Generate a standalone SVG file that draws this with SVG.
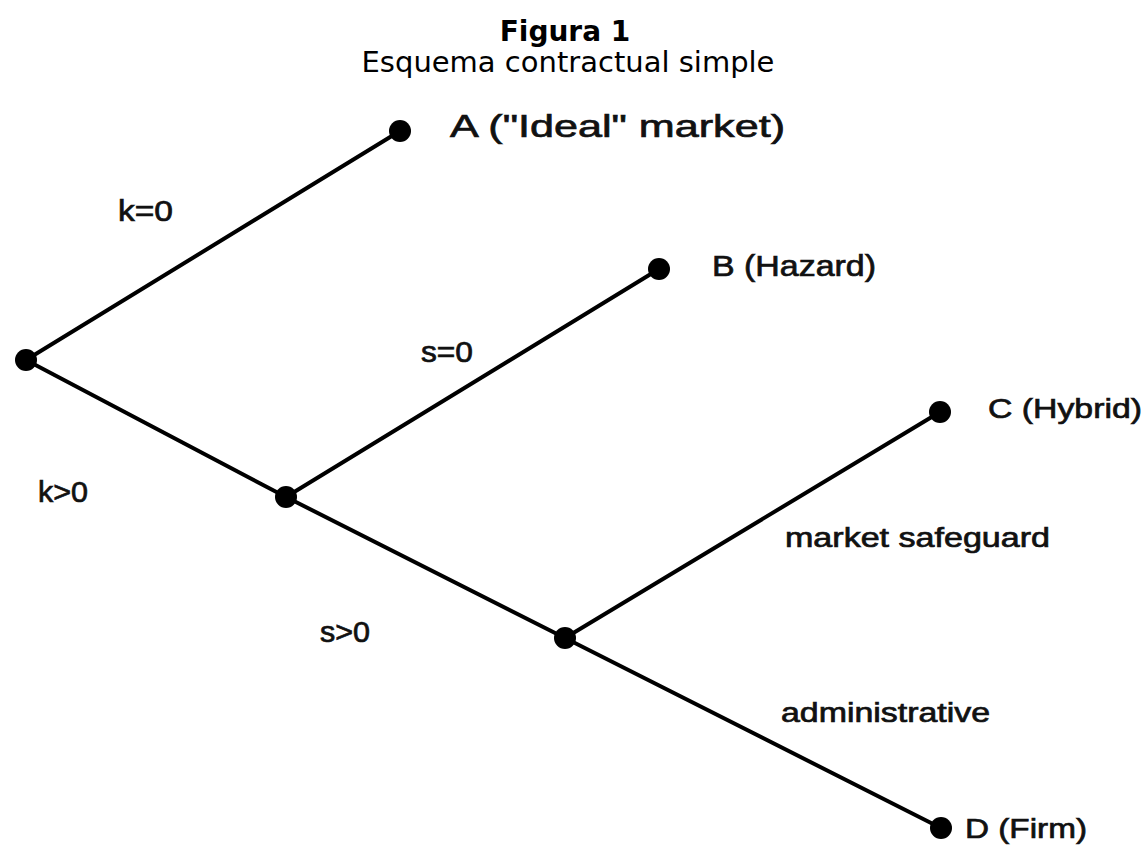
<svg xmlns="http://www.w3.org/2000/svg" width="1147" height="846" viewBox="0 0 1147 846">
<style>
.title{font-family:"DejaVu Sans",Verdana,sans-serif;font-size:28px;font-weight:bold;fill:#000;text-anchor:middle}
.sub{font-family:"DejaVu Sans",Verdana,sans-serif;font-size:29px;fill:#000;text-anchor:middle}
.lbl{font-family:"Liberation Sans",Arial,sans-serif;fill:#111;stroke:#111;stroke-width:0.7}
.edge{stroke:#000;stroke-width:4;fill:none;stroke-linecap:round}
.dot{fill:#000}
</style>
<rect width="1147" height="846" fill="#fff"/>
<text class="title" x="565" y="41">Figura 1</text>
<text class="sub" x="568" y="72">Esquema contractual simple</text>
<g id="connectors">
<line class="edge" x1="26" y1="360" x2="400" y2="131"/>
<line class="edge" x1="26" y1="360" x2="286" y2="497"/>
<line class="edge" x1="286" y1="497" x2="659" y2="269"/>
<line class="edge" x1="286" y1="497" x2="565" y2="638"/>
<line class="edge" x1="565" y1="638" x2="940" y2="412"/>
<line class="edge" x1="565" y1="638" x2="941" y2="828"/>
<text class="lbl" x="118" y="221" font-size="29" textLength="55" lengthAdjust="spacingAndGlyphs">k=0</text>
<text class="lbl" x="38" y="502" font-size="29" textLength="50" lengthAdjust="spacingAndGlyphs">k&gt;0</text>
<text class="lbl" x="421" y="362" font-size="29" textLength="52" lengthAdjust="spacingAndGlyphs">s=0</text>
<text class="lbl" x="320" y="642" font-size="29" textLength="50" lengthAdjust="spacingAndGlyphs">s&gt;0</text>
<text class="lbl" x="785" y="547" font-size="27" textLength="265" lengthAdjust="spacingAndGlyphs">market safeguard</text>
<text class="lbl" x="781" y="722" font-size="27" textLength="209" lengthAdjust="spacingAndGlyphs">administrative</text>
</g>
<g id="root"><circle class="dot" cx="26" cy="360" r="11"/></g>
<g id="n1"><circle class="dot" cx="286" cy="497" r="11"/></g>
<g id="n2"><circle class="dot" cx="565" cy="638" r="11"/></g>
<g id="A"><circle class="dot" cx="400" cy="131" r="11"/>
<text class="lbl" x="450" y="137" font-size="32" textLength="335" lengthAdjust="spacingAndGlyphs">A ("Ideal" market)</text></g>
<g id="B"><circle class="dot" cx="659" cy="269" r="11"/>
<text class="lbl" x="712" y="276" font-size="29" textLength="164" lengthAdjust="spacingAndGlyphs">B (Hazard)</text></g>
<g id="C"><circle class="dot" cx="940" cy="412" r="11"/>
<text class="lbl" x="988" y="418" font-size="28" textLength="154" lengthAdjust="spacingAndGlyphs">C (Hybrid)</text></g>
<g id="D"><circle class="dot" cx="941" cy="828" r="11"/>
<text class="lbl" x="965" y="838" font-size="28" textLength="122" lengthAdjust="spacingAndGlyphs">D (Firm)</text></g>
</svg>
